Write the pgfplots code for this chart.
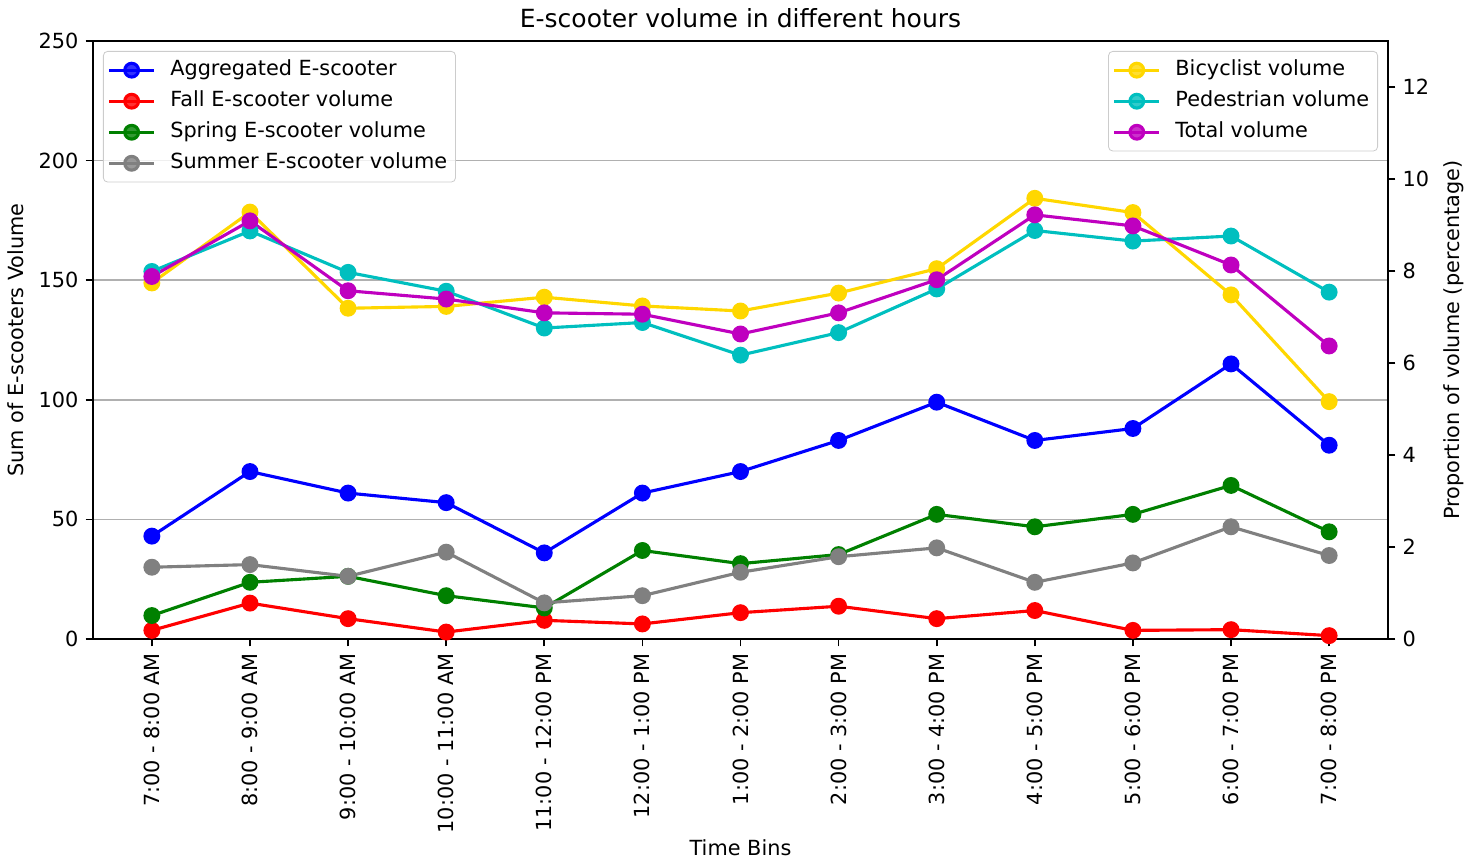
\documentclass[border=0pt]{standalone}
\usepackage{pgfplots}
\pgfplotsset{compat=1.18}
\usepackage{fontspec}
\setmainfont{DejaVu Sans}
\definecolor{mplgold}{RGB}{255,215,0}
\definecolor{mplc}{RGB}{0,191,191}
\definecolor{mplm}{RGB}{191,0,191}
\definecolor{mplgreen}{RGB}{0,128,0}
\definecolor{mplgray}{RGB}{128,128,128}
\definecolor{gridgray}{RGB}{176,176,176}
\definecolor{legframe}{RGB}{204,204,204}
\pgfplotsset{
  base/.style={
    scale only axis, width=621.6pt, height=287.04pt,
    at={(0,0)}, anchor=south west,
    xmin=-0.6, xmax=12.6,
    font=\fontsize{10}{12}\selectfont,
    /pgf/number format/assume math mode=true,
    tick align=outside, major tick length=3.5pt,
    every tick/.style={black, line width=0.8pt},
    axis line style={line width=0.8pt},
    legend cell align=left,
    legend image code/.code={
      \draw[mark repeat=2,mark phase=2] plot coordinates {(0pt,0pt)(10.8pt,0pt)(21.6pt,0pt)};
    },
    legend style={font=\fontsize{10}{12}\selectfont, draw=legframe, rounded corners=2pt, fill=white, fill opacity=0.8, text opacity=1,
      nodes={inner sep=2pt, text height=7.5pt, text depth=2.5pt}, row sep=0.9pt, column sep=5pt, inner xsep=2pt, inner ysep=2pt},
  },
  ser/.style={color=#1, line width=1.5pt, mark=*, mark size=3.3pt, mark options={fill=#1, draw=#1}},
}
\begin{document}
\begin{tikzpicture}
\begin{axis}[base,
  ymin=0, ymax=250, ytick={0,50,...,250},
  ytick pos=left, xtick pos=bottom,
  xtick={0,...,12},
  xticklabels={7:00 - 8:00 AM, 8:00 - 9:00 AM, 9:00 - 10:00 AM, 10:00 - 11:00 AM, 11:00 - 12:00 PM, 12:00 - 1:00 PM, 1:00 - 2:00 PM, 2:00 - 3:00 PM, 3:00 - 4:00 PM, 4:00 - 5:00 PM, 5:00 - 6:00 PM, 6:00 - 7:00 PM, 7:00 - 8:00 PM},
  xticklabel style={rotate=90, anchor=east},
  ymajorgrids, major grid style={gridgray, line width=0.8pt},
  xlabel={Time Bins}, ylabel={Sum of E-scooters Volume},
  xlabel style={yshift=3.6pt},
  title={E-scooter volume in different hours},
  title style={font=\fontsize{12}{14}\selectfont, yshift=-3.4pt},
  legend style={at={(0,1)}, anchor=north west, xshift=4.8pt, yshift=-4.8pt},
]
\addplot[ser=blue] coordinates {(0,43)(1,70)(2,61)(3,57)(4,36)(5,61)(6,70)(7,83)(8,99)(9,83)(10,88)(11,115)(12,81)};
\addlegendentry{Aggregated E-scooter}
\addplot[ser=red] coordinates {(0,3.6)(1,15)(2,8.5)(3,2.9)(4,7.8)(5,6.3)(6,11)(7,13.7)(8,8.5)(9,11.9)(10,3.6)(11,3.9)(12,1.4)};
\addlegendentry{Fall E-scooter volume}
\addplot[ser=mplgreen] coordinates {(0,9.8)(1,23.7)(2,26.2)(3,18.1)(4,13)(5,37)(6,31.5)(7,35.3)(8,52.1)(9,46.9)(10,52.1)(11,64.2)(12,44.8)};
\addlegendentry{Spring E-scooter volume}
\addplot[ser=mplgray] coordinates {(0,30)(1,31.1)(2,26.2)(3,36.3)(4,15.1)(5,18.1)(6,27.9)(7,34.4)(8,38.1)(9,23.7)(10,31.8)(11,46.9)(12,34.9)};
\addlegendentry{Summer E-scooter volume}
\end{axis}
\begin{axis}[base,
  axis y line*=right, axis x line=none,
  ymin=0, ymax=13, ytick={0,2,...,12},
  ylabel={Proportion of volume (percentage)},
  legend style={at={(1,1)}, anchor=north east, xshift=-4.8pt, yshift=-4.8pt},
]
\addplot[ser=mplgold] coordinates {(0,7.74)(1,9.28)(2,7.19)(3,7.23)(4,7.43)(5,7.24)(6,7.13)(7,7.52)(8,8.05)(9,9.58)(10,9.27)(11,7.48)(12,5.16)};
\addlegendentry{Bicyclist volume}
\addplot[ser=mplc] coordinates {(0,7.99)(1,8.87)(2,7.97)(3,7.56)(4,6.76)(5,6.88)(6,6.17)(7,6.66)(8,7.61)(9,8.88)(10,8.65)(11,8.76)(12,7.54)};
\addlegendentry{Pedestrian volume}
\addplot[ser=mplm] coordinates {(0,7.88)(1,9.09)(2,7.57)(3,7.39)(4,7.09)(5,7.06)(6,6.63)(7,7.09)(8,7.81)(9,9.22)(10,8.98)(11,8.13)(12,6.37)};
\addlegendentry{Total volume}
\end{axis}
\pgfresetboundingbox
\path (-44.64pt,-107.04pt) rectangle (662.4pt,306.72pt);
\end{tikzpicture}
\end{document}
